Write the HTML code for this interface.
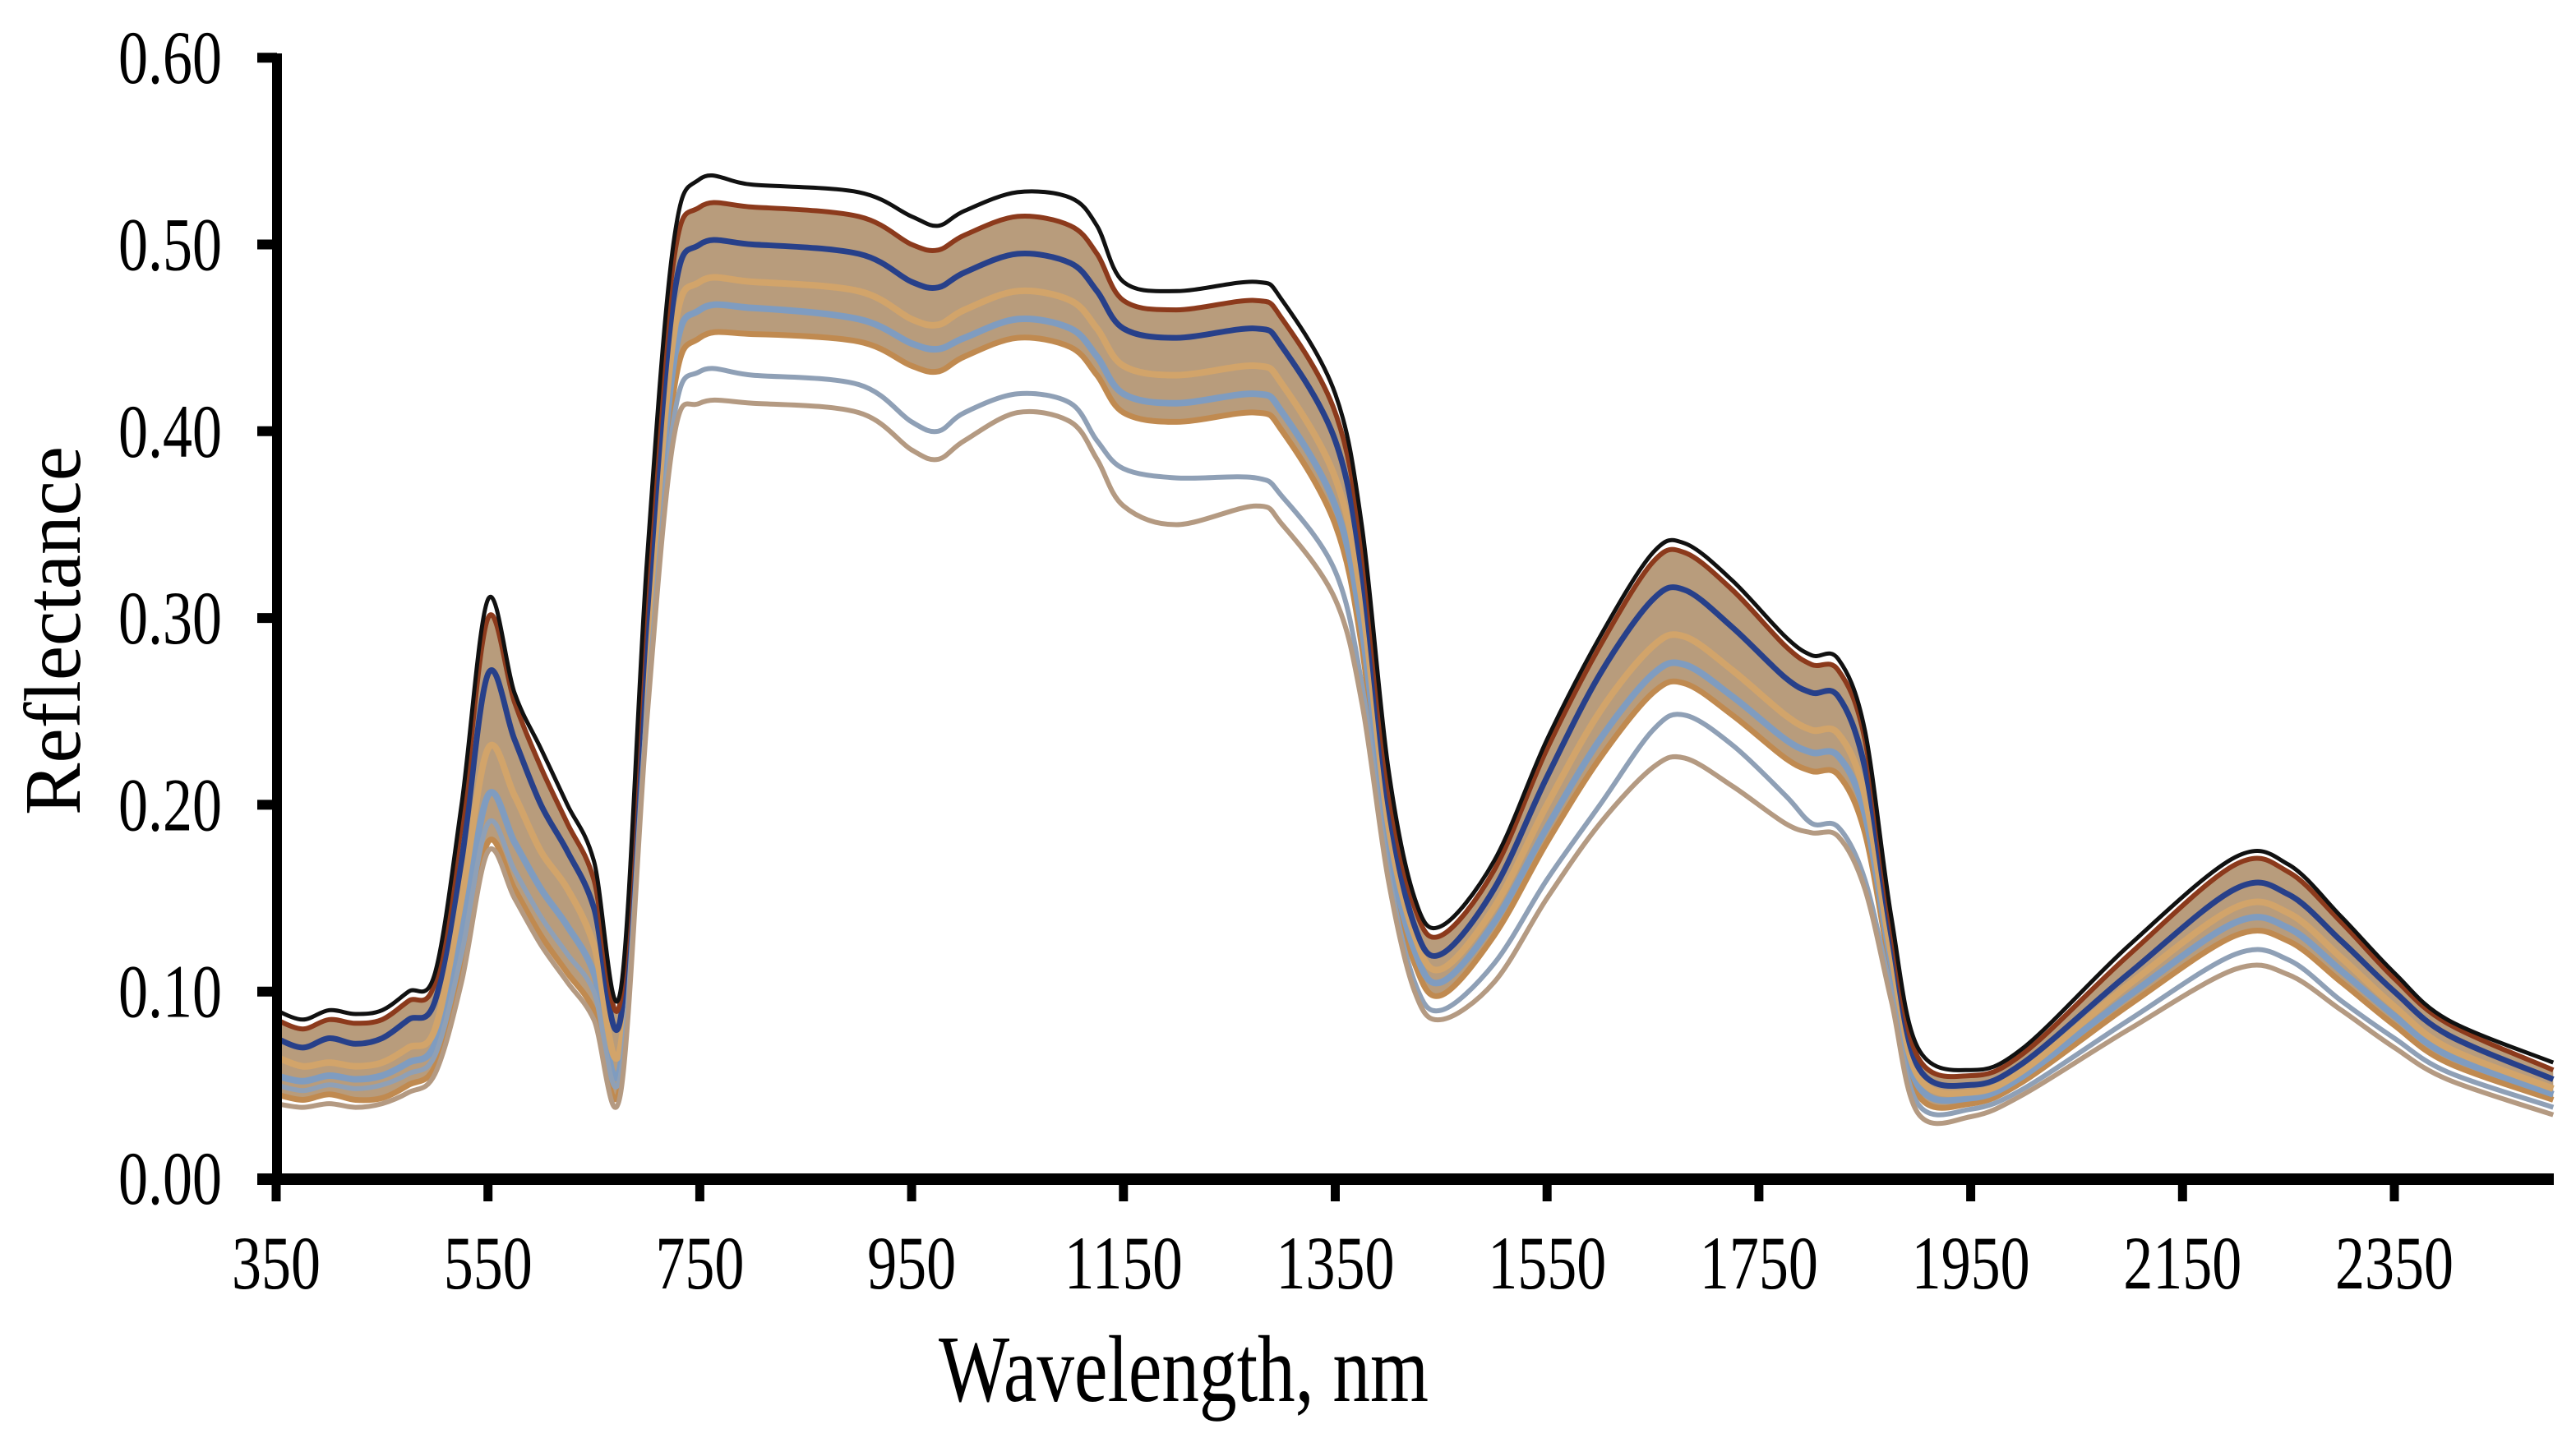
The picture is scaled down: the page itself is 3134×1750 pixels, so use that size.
<!DOCTYPE html>
<html><head><meta charset="utf-8"><style>
html,body{margin:0;padding:0;background:#fff;}
svg{display:block;font-family:"Liberation Serif",serif;}
</style></head><body>
<svg id="chart" width="3134" height="1750" viewBox="0 0 3134 1750" xmlns="http://www.w3.org/2000/svg">
<g id="plot"></g>
<g id="axes"></g>
<text x="1142" y="1705" font-size="115" textLength="596" lengthAdjust="spacingAndGlyphs">Wavelength, nm</text>
<text transform="translate(97,992) rotate(-90)" font-size="98" textLength="449" lengthAdjust="spacingAndGlyphs">Reflectance</text>
</svg>
<script>
const wavelengths=[350,375,400,425,450,475,500,525,550,575,600,625,650,675,700,725,750,800,900,950,975,1000,1050,1100,1125,1150,1200,1275,1300,1350,1375,1400,1425,1450,1500,1550,1600,1650,1680,1725,1775,1800,1825,1850,1875,1900,1950,2000,2100,2200,2250,2300,2350,2400,2500];
const seriesTop=[.09,.085,.09,.088,.09,.10,.11,.20,.31,.26,.23,.20,.17,.10,.33,.50,.535,.532,.528,.515,.51,.518,.528,.525,.51,.48,.475,.48,.47,.42,.35,.22,.15,.135,.17,.235,.29,.335,.34,.32,.29,.28,.278,.24,.14,.07,.058,.07,.125,.172,.168,.14,.11,.085,.062];
const seriesHigh=[.085,.08,.085,.083,.085,.095,.105,.19,.30,.255,.22,.19,.16,.095,.32,.49,.52,.52,.515,.50,.497,.505,.515,.51,.495,.47,.465,.47,.46,.41,.34,.21,.145,.13,.165,.23,.285,.33,.335,.315,.285,.275,.272,.235,.135,.065,.055,.067,.12,.168,.164,.137,.107,.083,.058];
const seriesMidHigh=[.075,.07,.075,.072,.075,.085,.095,.17,.27,.235,.20,.175,.145,.085,.30,.47,.50,.50,.495,.48,.477,.485,.495,.49,.475,.455,.45,.455,.445,.395,.325,.20,.135,.12,.155,.215,.27,.31,.315,.295,.268,.26,.258,.22,.13,.06,.05,.062,.11,.155,.152,.127,.10,.077,.053];
const seriesMid=[.065,.06,.062,.06,.062,.07,.08,.15,.23,.205,.175,.155,.125,.07,.28,.45,.48,.48,.475,.46,.457,.465,.475,.47,.455,.435,.43,.435,.425,.375,.31,.19,.13,.112,.145,.20,.25,.285,.29,.272,.248,.24,.238,.205,.12,.055,.046,.058,.104,.145,.142,.118,.092,.07,.048];
const seriesMidLow=[.055,.052,.055,.053,.055,.062,.072,.13,.205,.18,.155,.135,.11,.06,.27,.435,.465,.466,.46,.447,.444,.45,.46,.455,.44,.42,.415,.42,.41,.36,.295,.18,.122,.105,.137,.188,.235,.27,.275,.258,.235,.228,.226,.195,.115,.05,.043,.055,.098,.137,.134,.111,.087,.066,.045];
const seriesLow=[.045,.042,.045,.042,.043,.05,.06,.11,.18,.155,.13,.11,.09,.05,.26,.42,.45,.452,.448,.435,.432,.44,.45,.445,.43,.41,.405,.41,.40,.35,.285,.17,.115,.098,.13,.18,.225,.26,.265,.248,.225,.218,.216,.185,.11,.045,.04,.052,.093,.13,.127,.105,.082,.062,.042];
const seriesGrey=[.05,.047,.05,.048,.05,.056,.066,.12,.19,.165,.14,.12,.10,.055,.25,.405,.432,.43,.425,.405,.40,.41,.42,.415,.395,.38,.375,.375,.365,.325,.265,.165,.105,.09,.115,.16,.20,.24,.248,.232,.205,.19,.188,.16,.10,.04,.037,.048,.085,.12,.117,.095,.075,.057,.038];
const seriesLowest=[.04,.038,.04,.038,.04,.046,.056,.105,.175,.15,.125,.105,.085,.045,.245,.395,.415,.415,.41,.39,.385,.395,.41,.405,.385,.36,.35,.36,.35,.31,.255,.16,.10,.085,.105,.15,.19,.22,.225,.21,.19,.185,.183,.155,.095,.035,.033,.045,.08,.112,.109,.09,.07,.053,.034];
const yTickLabels=["0.00","0.10","0.20","0.30","0.40","0.50","0.60"];
const yTickValues=[0,0.1,0.2,0.3,0.4,0.5,0.6];
const xTickValues=[350,550,750,950,1150,1350,1550,1750,1950,2150,2350];

const NS="http://www.w3.org/2000/svg";
function xs(w){return 336+(w-350)*1.2885;}
function ys(v){return 1434-v*2273;}
function mk(tag,attrs,parent){const e=document.createElementNS(NS,tag);for(const k in attrs)e.setAttribute(k,attrs[k]);parent.appendChild(e);return e;}
function pts(vals){return vals.map((v,i)=>[xs(wavelengths[i]),ys(v)]);}
function smooth(p){let d="M"+p[0][0].toFixed(1)+","+p[0][1].toFixed(1);
 for(let i=0;i<p.length-1;i++){const p0=p[i-1]||p[i],p1=p[i],p2=p[i+1],p3=p[i+2]||p2;
  const c1x=p1[0]+(p2[0]-p0[0])/6,c1y=p1[1]+(p2[1]-p0[1])/6,c2x=p2[0]-(p3[0]-p1[0])/6,c2y=p2[1]-(p3[1]-p1[1])/6;
  d+=" C"+c1x.toFixed(1)+","+c1y.toFixed(1)+" "+c2x.toFixed(1)+","+c2y.toFixed(1)+" "+p2[0].toFixed(1)+","+p2[1].toFixed(1);}
 return d;}
const plot=document.getElementById('plot');
// band fill between high and low envelopes
const up=smooth(pts(seriesHigh));
const lowPts=pts(seriesLow).reverse();
const lowPath=smooth(lowPts).replace(/^M/,"L");
const band=mk('path',{d:up+" "+lowPath+" Z",fill:"#b89c7c",stroke:"none"},plot);


const lines=[
 [seriesLow,"#c08a50",7],[seriesMidLow,"#7f9cc0",8],[seriesMid,"#d2a46a",8],[seriesMidHigh,"#27408a",7],
 [seriesHigh,"#8c3a1c",6],[seriesGrey,"#8fa0b6",6],[seriesLowest,"#b49a82",6],[seriesTop,"#111111",5]];
lines.forEach((l,i)=>{
 const p=mk('path',{d:smooth(pts(l[0])),fill:"none",stroke:l[1],"stroke-width":l[2],"stroke-linejoin":"round"},plot);
 
 
});
const axes=document.getElementById('axes');
const ya=mk('line',{x1:337,y1:65,x2:337,y2:1441,stroke:"#000","stroke-width":12},axes);


const xa=mk('line',{x1:313,y1:1435,x2:3107,y2:1435,stroke:"#000","stroke-width":14},axes);


yTickValues.forEach((v,i)=>{
 const t=mk('line',{x1:313,y1:ys(v),x2:337,y2:ys(v),stroke:"#000","stroke-width":12},axes);
 
 
 const tx=mk('text',{x:270,y:ys(v)+31,"font-size":92,"text-anchor":"end",textLength:126,lengthAdjust:"spacingAndGlyphs"},axes);
 tx.textContent=yTickLabels[i];
 
 
});
xTickValues.forEach(w=>{
 const t=mk('line',{x1:xs(w),y1:1435,x2:xs(w),y2:1462,stroke:"#000","stroke-width":11},axes);
 
 
 const s=String(w);
 const tx=mk('text',{x:xs(w),y:1568,"font-size":92,"text-anchor":"middle",textLength:s.length*36,lengthAdjust:"spacingAndGlyphs"},axes);
 tx.textContent=s;
 
 
});
</script>
</body></html>
